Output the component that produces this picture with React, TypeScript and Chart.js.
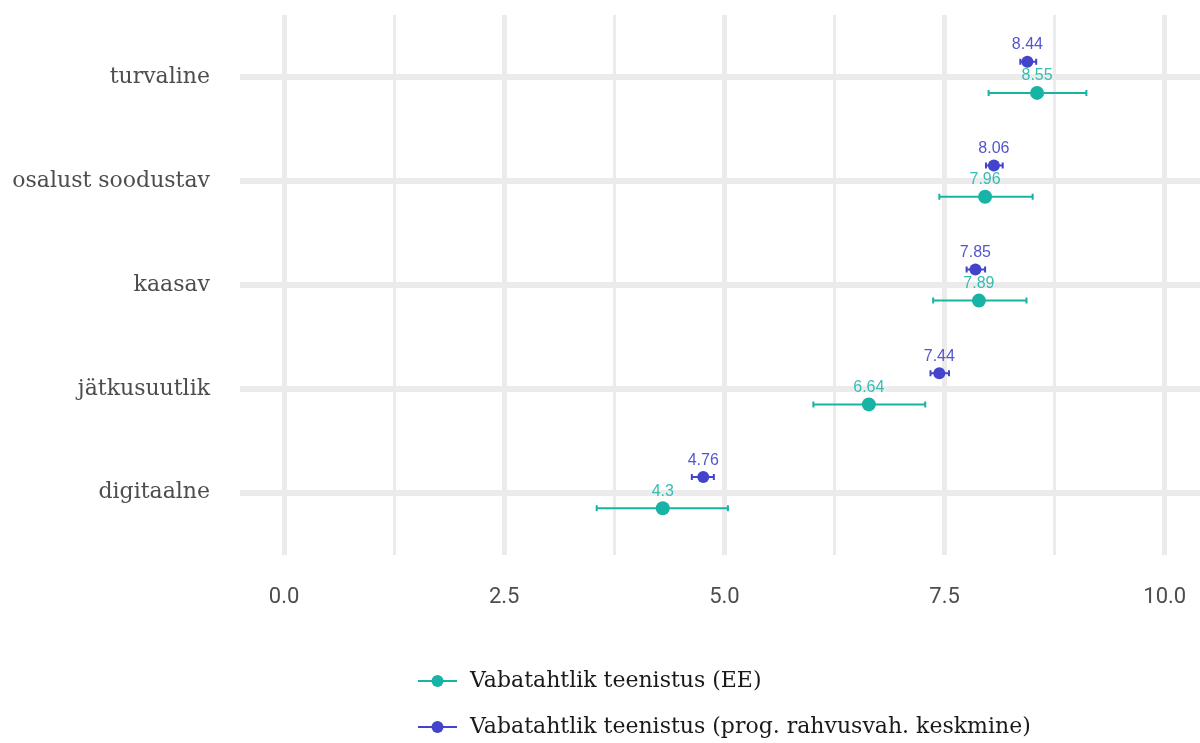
import { useEffect, useRef } from 'react'
import { Chart, registerables } from 'chart.js'

Chart.register(...registerables)

// categories (top to bottom)
const categories = ['turvaline', 'osalust soodustav', 'kaasav', 'jätkusuutlik', 'digitaalne']

// Vabatahtlik teenistus (EE)
const eeValues = [8.55, 7.96, 7.89, 6.64, 4.3]
const eeLow = [8.0, 7.44, 7.37, 6.01, 3.55]
const eeHigh = [9.11, 8.5, 8.43, 7.28, 5.04]

// Vabatahtlik teenistus (prog. rahvusvah. keskmine)
const avgValues = [8.44, 8.06, 7.85, 7.44, 4.76]
const avgLow = [8.36, 7.97, 7.75, 7.34, 4.63]
const avgHigh = [8.54, 8.16, 7.96, 7.55, 4.88]

const seriesLabels = ['Vabatahtlik teenistus (EE)', 'Vabatahtlik teenistus (prog. rahvusvah. keskmine)']
const xTicks = [0, 1.25, 2.5, 3.75, 5, 6.25, 7.5, 8.75, 10]
const xLabels = [0, 2.5, 5, 7.5, 10]

const TEAL = '#17b4a6'
const BLUE = '#4343cb'
const OFFSET = 0.15

// no extra padding for tick label overflow
const zeroPadding = (scale: any) => {
  scale.paddingTop = 0
  scale.paddingBottom = 0
  scale.paddingLeft = 0
  scale.paddingRight = 0
}

// error bars behind points, value labels above them, x labels and legend
const errorBarPlugin = {
  id: 'errorBars',
  beforeDatasetsDraw(chart: any) {
    const { ctx, scales } = chart
    const x = scales.x
    const y = scales.y
    const draw = (lows: number[], highs: number[], off: number, color: string) => {
      ctx.save()
      ctx.strokeStyle = color
      ctx.lineWidth = 2
      lows.forEach((lo, i) => {
        const py = y.getPixelForValue(i + off)
        const x1 = x.getPixelForValue(lo)
        const x2 = x.getPixelForValue(highs[i])
        ctx.beginPath()
        ctx.moveTo(x1, py)
        ctx.lineTo(x2, py)
        ctx.moveTo(x1, py - 3)
        ctx.lineTo(x1, py + 3)
        ctx.moveTo(x2, py - 3)
        ctx.lineTo(x2, py + 3)
        ctx.stroke()
      })
      ctx.restore()
    }
    draw(eeLow, eeHigh, OFFSET, TEAL)
    draw(avgLow, avgHigh, -OFFSET, BLUE)
  },
  afterDatasetsDraw(chart: any) {
    const { ctx, scales } = chart
    const x = scales.x
    const y = scales.y
    ctx.save()
    ctx.font = '16px "Liberation Sans", Arial, sans-serif'
    ctx.textAlign = 'center'
    ctx.textBaseline = 'middle'
    eeValues.forEach((v, i) => {
      ctx.fillStyle = '#35bdb1'
      ctx.fillText(String(v), x.getPixelForValue(v), y.getPixelForValue(i + OFFSET) - 17)
    })
    avgValues.forEach((v, i) => {
      ctx.fillStyle = '#5555cf'
      ctx.fillText(String(v), x.getPixelForValue(v), y.getPixelForValue(i - OFFSET) - 17)
    })
    ctx.restore()
  },
  afterDraw(chart: any) {
    const { ctx, scales, chartArea } = chart
    ctx.save()
    // x tick labels
    ctx.fillStyle = '#4d4d4d'
    ctx.font = '22px Roboto'
    ctx.textAlign = 'center'
    ctx.textBaseline = 'middle'
    xLabels.forEach((v) => {
      ctx.fillText(v.toFixed(1), scales.x.getPixelForValue(v), chartArea.bottom + 42)
    })
    // legend
    const colors = [TEAL, BLUE]
    seriesLabels.forEach((label, i) => {
      const cy = 681 + i * 46
      ctx.strokeStyle = colors[i]
      ctx.lineWidth = 2
      ctx.beginPath()
      ctx.moveTo(418, cy)
      ctx.lineTo(457, cy)
      ctx.stroke()
      ctx.fillStyle = colors[i]
      ctx.beginPath()
      ctx.arc(437.5, cy, 6, 0, Math.PI * 2)
      ctx.fill()
      ctx.fillStyle = '#1a1a1a'
      ctx.font = '22px "DejaVu Serif", serif'
      ctx.textAlign = 'left'
      ctx.textBaseline = 'middle'
      ctx.fillText(label, 470, cy)
    })
    ctx.restore()
  },
}

export default function App() {
  const canvasRef = useRef<HTMLCanvasElement>(null)

  useEffect(() => {
    document.body.style.margin = '0'
    document.body.style.overflow = 'hidden'
    if (!canvasRef.current) return

    const chart = new Chart(canvasRef.current, {
      type: 'scatter',
      data: {
        datasets: [
          {
            label: seriesLabels[0],
            data: eeValues.map((v, i) => ({ x: v, y: i + OFFSET })),
            backgroundColor: TEAL,
            borderColor: TEAL,
            pointRadius: 7,
            pointHoverRadius: 7,
            borderWidth: 0,
          },
          {
            label: seriesLabels[1],
            data: avgValues.map((v, i) => ({ x: v, y: i - OFFSET })),
            backgroundColor: BLUE,
            borderColor: BLUE,
            pointRadius: 6,
            pointHoverRadius: 6,
            borderWidth: 0,
          },
        ],
      },
      options: {
        responsive: false,
        maintainAspectRatio: false,
        animation: false,
        layout: { autoPadding: false, padding: { top: 15, bottom: 118, left: 0, right: 0 } },
        plugins: {
          legend: { display: false },
          tooltip: { enabled: false },
        },
        scales: {
          x: {
            type: 'linear',
            min: -0.5,
            max: 10.4,
            afterBuildTicks: (scale: any) => {
              scale.ticks = xTicks.map((v) => ({ value: v }))
            },
            afterFit: (scale: any) => {
              scale.height = 70
              zeroPadding(scale)
            },
            border: { display: false },
            grid: {
              color: '#ebebeb',
              lineWidth: (c: any) => (c.tick && c.tick.value % 2.5 === 0 ? 5 : 3),
              drawTicks: false,
            },
            ticks: { display: false },
          },
          y: {
            type: 'linear',
            min: -0.6,
            max: 4.6,
            reverse: true,
            afterBuildTicks: (scale: any) => {
              scale.ticks = categories.map((_, i) => ({ value: i }))
            },
            afterFit: (scale: any) => {
              scale.width = 240
              zeroPadding(scale)
            },
            border: { display: false },
            grid: { color: '#ebebeb', lineWidth: 6, drawTicks: false },
            ticks: {
              autoSkip: false,
              padding: 30,
              color: '#4d4d4d',
              font: { family: '"DejaVu Serif", serif', size: 22 },
              callback: (v: any) => categories[Number(v)] ?? '',
            },
          },
        },
      },
      plugins: [errorBarPlugin],
    } as any)

    return () => {
      chart.destroy()
    }
  }, [])

  return (
    <div style={{ width: 1200, height: 743 }}>
      <canvas ref={canvasRef} width={1200} height={743} style={{ display: 'block' }}></canvas>
    </div>
  )
}
